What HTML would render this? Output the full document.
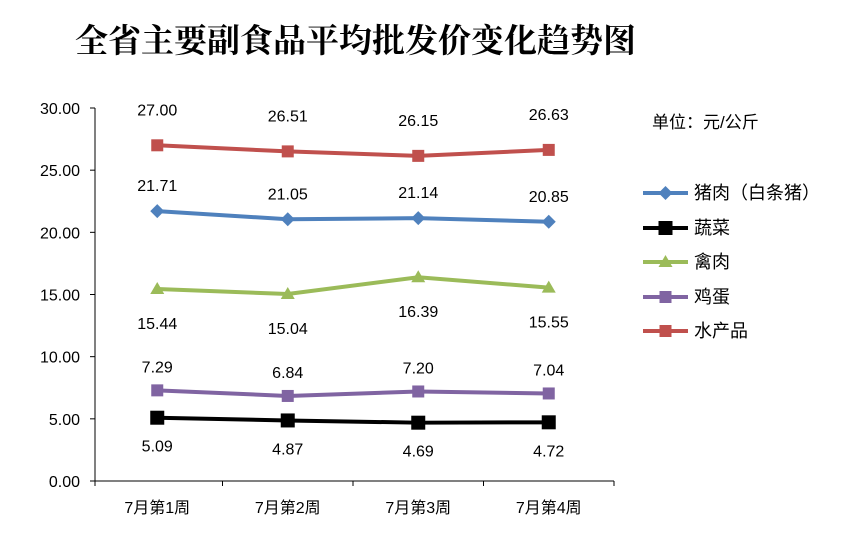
<!DOCTYPE html>
<html><head><meta charset="utf-8"><style>
body{margin:0;background:#fff;}
svg{display:block;font-family:"Liberation Sans","Noto Sans CJK SC",sans-serif;}
</style></head><body>
<svg id="chart" width="853" height="540" viewBox="0 0 853 540">
<text x="75" y="52" font-size="33" font-weight="bold" font-family='"Liberation Serif","Noto Serif CJK SC",serif' fill="#000">全省主要副食品平均批发价变化趋势图</text>
<text x="652" y="128" font-size="17" fill="#000">单位：元/公斤</text>
<g id="axes"></g><g id="series"></g><g id="legend"></g>
</svg>
<script>
const categories=["7月第1周","7月第2周","7月第3周","7月第4周"];
const seriesNames=["猪肉（白条猪）","蔬菜","禽肉","鸡蛋","水产品"];
const pork=[21.71,21.05,21.14,20.85];
const veg=[5.09,4.87,4.69,4.72];
const poultry=[15.44,15.04,16.39,15.55];
const egg=[7.29,6.84,7.20,7.04];
const fish=[27.00,26.51,26.15,26.63];
const yTicks=[0,5,10,15,20,25,30];
const NS="http://www.w3.org/2000/svg";
const X0=92,X1=614,Y0=481,Y1=108,YMAX=30;
const band=(X1-X0)/categories.length;
const xs=i=>X0+band*(i+0.5);
const ys=v=>Y0-(v/YMAX)*(Y0-Y1);
function mk(t,a,p){const e=document.createElementNS(NS,t);for(const k in a)e.setAttribute(k,a[k]);p.appendChild(e);return e;}
const ax=document.getElementById('axes');
let l=mk('line',{x1:95,y1:Y1,x2:95,y2:Y0,stroke:'#000','stroke-width':1},ax);


l=mk('line',{x1:95,y1:Y0,x2:X1,y2:Y0,stroke:'#000','stroke-width':1},ax);


yTicks.forEach(v=>{
 mk('line',{x1:90,x2:95,y1:ys(v),y2:ys(v),stroke:'#000'},ax);
 const t=mk('text',{x:80,y:ys(v)+6,'text-anchor':'end','font-size':16},ax);t.textContent=v.toFixed(2);
 
 
});
for(let i=0;i<=categories.length;i++)mk('line',{x1:X0+band*i+(i==0?3:0),x2:X0+band*i+(i==0?3:0),y1:Y0,y2:Y0+5,stroke:'#000'},ax);
categories.forEach((c,i)=>{const t=mk('text',{x:xs(i),y:513,'text-anchor':'middle','font-size':16},ax);t.textContent=c;
 
 });
const defs=[
 {d:pork,c:'#4F81BD',m:'diamond',lab:-20,n:'pork'},
 {d:veg,c:'#000000',m:'square',lab:34,n:'vegetables'},
 {d:poultry,c:'#9BBB59',m:'triangle',lab:40,n:'poultry'},
 {d:egg,c:'#8064A2',m:'square',lab:-18,n:'eggs'},
 {d:fish,c:'#C0504D',m:'square',lab:-30,n:'seafood'}];
function marker(g,m,x,y,c,s){
 if(m=='diamond')return mk('polygon',{points:`${x},${y-7} ${x+7},${y} ${x},${y+7} ${x-7},${y}`,fill:c},g);
 if(m=='triangle')return mk('polygon',{points:`${x},${y-7} ${x+7},${y+5} ${x-7},${y+5}`,fill:c},g);
 return mk('rect',{x:x-s,y:y-s,width:2*s,height:2*s,fill:c},g);
}
const sg=document.getElementById('series');
defs.forEach(s=>{
 const g=mk('g',{},sg);
 
 
 const p=mk('polyline',{points:s.d.map((v,i)=>xs(i)+','+ys(v)).join(' '),fill:'none',stroke:s.c,'stroke-width':4},g);
 
 
 s.d.forEach((v,i)=>{
  const mm=marker(g,s.m,xs(i),ys(v),s.c,s.c=='#000000'?7:6);
  
  
  const t=mk('text',{x:xs(i),y:ys(v)+s.lab,'text-anchor':'middle','font-size':16},g);t.textContent=v.toFixed(2);
  
  
 });
});
const lg=document.getElementById('legend');
const ly=[193,228,262,297,331];
defs.forEach((s,i)=>{
 const g=mk('g',{},lg);
 
 
 mk('line',{x1:643,x2:688,y1:ly[i],y2:ly[i],stroke:s.c,'stroke-width':4},g);
 marker(g,s.m,665.5,ly[i],s.c,s.c=='#000000'?7:6);
 const t=mk('text',{x:694,y:ly[i]+6,'font-size':18},g);t.textContent=seriesNames[i];
});
</script>
</body></html>
